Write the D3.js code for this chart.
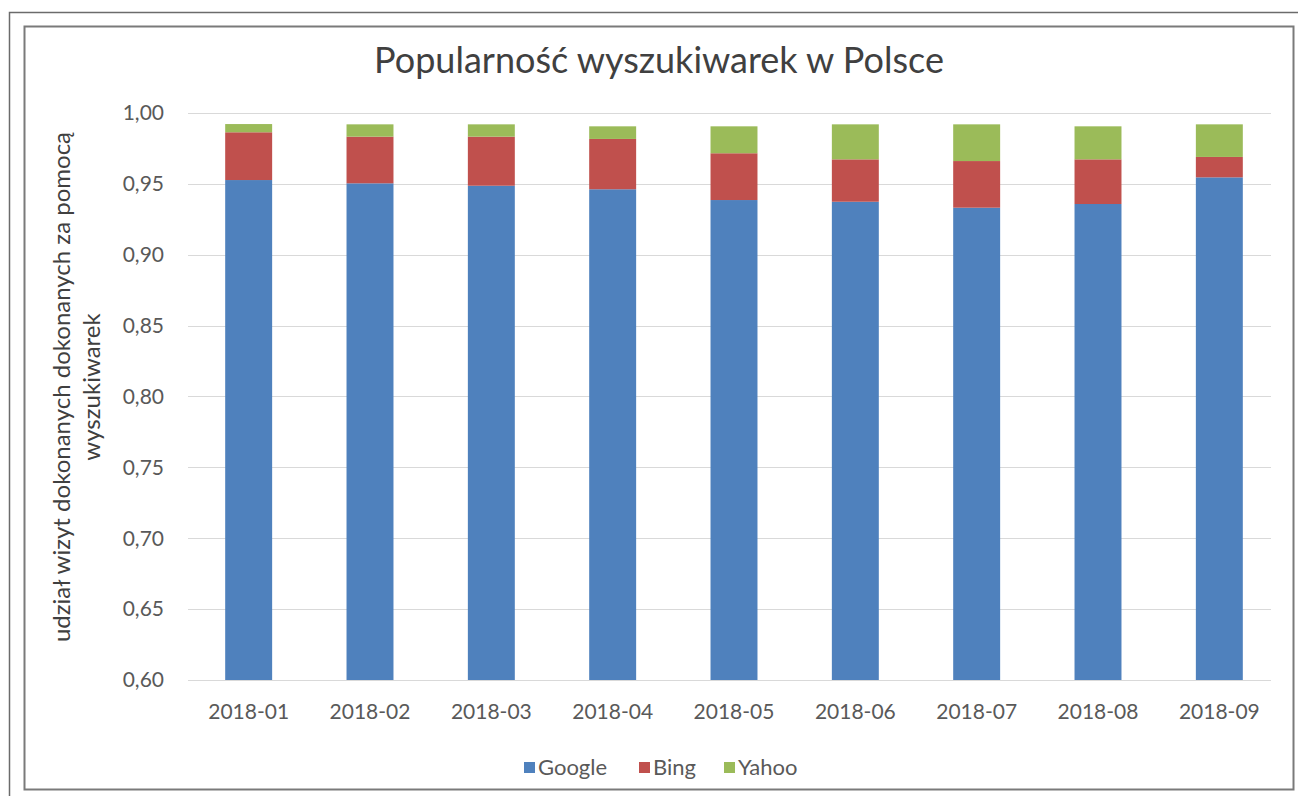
<!DOCTYPE html>
<html>
<head>
<meta charset="utf-8">
<script src="https://cdn.jsdelivr.net/npm/d3@7"></script>
<style>
  body { margin: 0; background: #fff; }
  text { font-family: Lato, "Open Sans", sans-serif; }
</style>
</head>
<body>
<div id="chart"></div>
<script>
const months = ["2018-01", "2018-02", "2018-03", "2018-04", "2018-05", "2018-06", "2018-07", "2018-08", "2018-09"];
const google = [0.9527, 0.9504, 0.9487, 0.9462, 0.9386, 0.9374, 0.9332, 0.9358, 0.9546];
const bing   = [0.0337, 0.0329, 0.0346, 0.0355, 0.0330, 0.0299, 0.0329, 0.0315, 0.0144];
const yahoo  = [0.0058, 0.0087, 0.0087, 0.0089, 0.0190, 0.0247, 0.0259, 0.0233, 0.0230];
const seriesNames = ["Google", "Bing", "Yahoo"];
const colors = ["#4f81bd", "#c0504d", "#9bbb59"];
const yTicks = [0.60, 0.65, 0.70, 0.75, 0.80, 0.85, 0.90, 0.95, 1.00];

const width = 1298, height = 796;

const svg = d3.select("#chart")
    .append("svg")
    .attr("width", width)
    .attr("height", height);

// outer frame (cropped screenshot border)
svg.append("path")
    .attr("d", "M9.5,796 V12.5 H1298")
    .attr("fill", "none")
    .attr("stroke", "#6b6b6b")
    .attr("stroke-width", 1.5);

// chart area border
svg.append("rect")
    .attr("x", 24.5).attr("y", 26.5)
    .attr("width", 1269).attr("height", 763)
    .attr("fill", "#fff")
    .attr("stroke", "#7a7a7a")
    .attr("stroke-width", 2);

const data = months.map((m, i) => ({ month: m, Google: google[i], Bing: bing[i], Yahoo: yahoo[i] }));
const stacked = d3.stack().keys(seriesNames)(data);

const x = d3.scaleBand()
    .domain(months)
    .range([188, 1280])
    .paddingInner(0.613)
    .paddingOuter(0.3065);

const y = d3.scaleLinear()
    .domain([0.6, 1.0])
    .range([680, 113]);

// gridlines
svg.append("g")
    .selectAll("line")
    .data(yTicks)
    .enter().append("line")
    .attr("x1", 188)
    .attr("x2", 1271)
    .attr("y1", d => Math.round(y(d)) + 0.5)
    .attr("y2", d => Math.round(y(d)) + 0.5)
    .attr("stroke", "#d9d9d9")
    .attr("stroke-width", 1.2);

// y tick labels
svg.append("g")
    .selectAll("text")
    .data(yTicks)
    .enter().append("text")
    .attr("x", 164)
    .attr("y", d => y(d))
    .attr("dy", "0.35em")
    .attr("text-anchor", "end")
    .attr("font-size", "21px")
    .attr("fill", "#595959")
    .text(d => d3.format(".2f")(d).replace(".", ","));

// bars
svg.append("g")
    .selectAll("g")
    .data(stacked)
    .enter().append("g")
    .attr("fill", (d, i) => colors[i])
    .selectAll("rect")
    .data(d => d)
    .enter().append("rect")
    .attr("x", d => x(d.data.month))
    .attr("width", x.bandwidth())
    .attr("y", d => y(d[1]))
    .attr("height", d => y(Math.max(d[0], 0.6)) - y(d[1]));

// x labels
svg.append("g")
    .selectAll("text")
    .data(months)
    .enter().append("text")
    .attr("x", d => x(d) + x.bandwidth() / 2)
    .attr("y", 712)
    .attr("dy", "0.35em")
    .attr("text-anchor", "middle")
    .attr("font-size", "21px")
    .attr("fill", "#595959")
    .text(d => d);

// title
svg.append("text")
    .attr("x", 659)
    .attr("y", 60)
    .attr("dy", "0.35em")
    .attr("text-anchor", "middle")
    .attr("font-size", "36px")
    .attr("fill", "#404040")
    .text("Popularność wyszukiwarek w Polsce");

// y axis title
const yTitle = svg.append("text")
    .attr("transform", "translate(77,387) rotate(-90)")
    .attr("text-anchor", "middle")
    .attr("font-size", "24px")
    .attr("fill", "#404040");
yTitle.append("tspan").attr("x", 0).attr("y", -7).text("udział wizyt dokonanych dokonanych za pomocą");
yTitle.append("tspan").attr("x", 0).attr("y", 23).text("wyszukiwarek");

// legend
const legendItems = seriesNames.map((name, i) => ({ name: name, color: colors[i] }));
const legend = svg.append("g");
const itemOffsets = [0, 115, 200];
const legendLeft = 524;
legendItems.forEach((d, i) => {
    const g = legend.append("g").attr("transform", `translate(${legendLeft + itemOffsets[i]},767)`);
    g.append("rect")
        .attr("x", 0).attr("y", -5)
        .attr("width", 11).attr("height", 11)
        .attr("fill", d.color);
    g.append("text")
        .attr("x", 14)
        .attr("y", 0)
        .attr("dy", "0.35em")
        .attr("font-size", "22px")
        .attr("fill", "#595959")
        .text(d.name);
});
</script>
</body>
</html>
